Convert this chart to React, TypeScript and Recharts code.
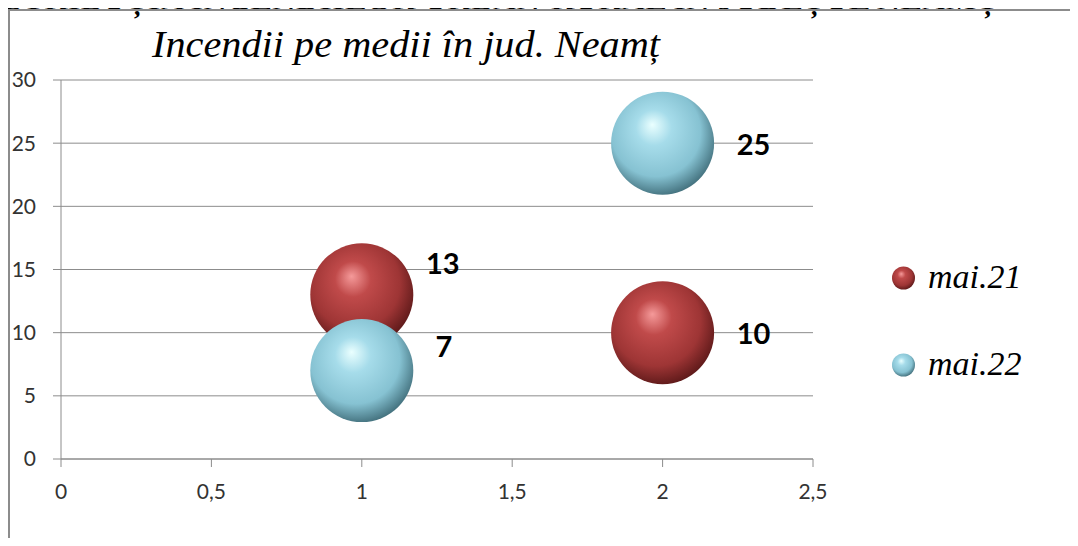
import React from "react";
import {
  ScatterChart,
  Scatter,
  XAxis,
  YAxis,
  ZAxis,
  CartesianGrid,
  Legend,
  LabelList,
} from "recharts";

// values
const seriesNames = ["mai.21", "mai.22"];
const xValues = [1, 2];
const mai21Values = [13, 10];
const mai22Values = [7, 25];
const bubbleSizes = [1, 1];
const xTicks = [0, 0.5, 1, 1.5, 2, 2.5];
const yTicks = [0, 5, 10, 15, 20, 25, 30];

const mai21 = xValues.map((x, i) => ({ x, y: mai21Values[i], z: bubbleSizes[i] }));
const mai22 = xValues.map((x, i) => ({ x, y: mai22Values[i], z: bubbleSizes[i] }));

const GRID = "#8c8c8c";
const R = 51.5;

// label nudges, like the hand-moved labels in the original
const labelShift: Record<string, number[][]> = {
  "mai.21": [[81, -32], [91, 0]],
  "mai.22": [[82, -25], [91, 0]],
};

const sphere = (gradId: string) => (props: any) => {
  const { cx, cy, width } = props;
  const r = width ? width / 2 : R;
  return <circle cx={cx} cy={cy} r={r} fill={`url(#${gradId})`} />;
};

const makeLabel = (name: string) => (props: any) => {
  const vb = props.viewBox || props;
  const cx = vb.x + (vb.width || 0) / 2;
  const cy = vb.y + (vb.height || 0) / 2;
  const [dx, dy] = labelShift[name][props.index] || [91, 0];
  return (
    <text
      x={cx + dx}
      y={cy + dy}
      textAnchor="middle"
      dominantBaseline="central"
      fontFamily="Lato, sans-serif"
      fontWeight="bold"
      fontSize={29}
      fill="#000"
    >
      {props.value}
    </text>
  );
};

const renderLegend = () => (
  <svg width={190} height={140} style={{ display: "block" }}>
    {seriesNames.map((n, i) => (
      <g key={n}>
        <circle cx={23.5} cy={28 + i * 87} r={11.5} fill={i === 0 ? "url(#gradRed)" : "url(#gradBlue)"} />
        <text
          x={48}
          y={38 + i * 87}
          fontFamily="'Liberation Serif', serif"
          fontStyle="italic"
          fontSize={34}
          fill="#000"
        >
          {n}
        </text>
      </g>
    ))}
  </svg>
);

const tickStyle = { fill: "#333", fontSize: 21, fontFamily: "Lato, sans-serif" };

export default function App() {
  return (
    <div style={{ position: "relative", width: 1078, height: 546, margin: -8, overflow: "hidden", background: "#fff" }}>
      {/* page heading above the chart, cut off by the top edge */}
      <div
        style={{
          position: "absolute",
          left: -32,
          top: -17,
          whiteSpace: "nowrap",
          fontFamily: "'Liberation Serif', serif",
          fontWeight: "bold",
          fontSize: 33,
          lineHeight: "33px",
          color: "#000",
          transformOrigin: "0 0",
          transform: "scaleX(0.99)",
        }}
      >
        DISTRIBUȚIA INCENDIILOR URBAN-RURAL ÎN JUDEȚUL NEAMȚ
      </div>
      <div style={{ position: "absolute", left: 0, top: 0 }}>
        <ScatterChart width={1078} height={546} margin={{ top: 80, right: 75, bottom: 47, left: 0 }}>
          <defs>
            <radialGradient id="gradRed" cx="45%" cy="42%" r="62%" fx="40%" fy="32%">
              <stop offset="0%" stopColor="#f59a9a" />
              <stop offset="28%" stopColor="#c04a4a" />
              <stop offset="70%" stopColor="#9e3535" />
              <stop offset="100%" stopColor="#561616" />
            </radialGradient>
            <radialGradient id="gradBlue" cx="45%" cy="42%" r="62%" fx="40%" fy="32%">
              <stop offset="0%" stopColor="#eaffff" />
              <stop offset="28%" stopColor="#a6dcea" />
              <stop offset="70%" stopColor="#86c2d2" />
              <stop offset="100%" stopColor="#3b6773" />
            </radialGradient>
          </defs>
          <CartesianGrid vertical={false} stroke={GRID} />
          <XAxis
            type="number"
            dataKey="x"
            domain={[0, 2.5]}
            ticks={xTicks}
            height={40}
            tickSize={8}
            tickMargin={17}
            stroke={GRID}
            fontSize={21}
            tickFormatter={(v: number) => String(v).replace(".", ",")}
            tick={tickStyle}
          />
          <YAxis
            type="number"
            dataKey="y"
            domain={[0, 30]}
            ticks={yTicks}
            width={61}
            tickSize={8}
            tickMargin={17}
            stroke={GRID}
            fontSize={21}
            tick={tickStyle}
          />
          <ZAxis type="number" dataKey="z" range={[Math.PI * R * R, Math.PI * R * R]} />
          <Legend
            layout="vertical"
            align="right"
            verticalAlign="middle"
            content={renderLegend}
            wrapperStyle={{ position: "absolute", left: 880, top: 250, width: 190, height: 140 }}
          />
          <Scatter name="mai.21" data={mai21} shape={sphere("gradRed")} isAnimationActive={false}>
            <LabelList dataKey="y" content={makeLabel("mai.21")} />
          </Scatter>
          <Scatter name="mai.22" data={mai22} shape={sphere("gradBlue")} isAnimationActive={false}>
            <LabelList dataKey="y" content={makeLabel("mai.22")} />
          </Scatter>
        </ScatterChart>
      </div>
      <svg width={1078} height={546} style={{ position: "absolute", left: 0, top: 0, pointerEvents: "none" }}>
        <rect x={9} y={10} width={1100} height={600} fill="none" stroke={GRID} strokeWidth={2} />
        <text
          x={152}
          y={57}
          textLength={508}
          lengthAdjust="spacingAndGlyphs"
          fontFamily="'Liberation Serif', serif"
          fontStyle="italic"
          fontSize={37}
          fill="#000"
        >
          Incendii pe medii în jud. Neamț
        </text>
      </svg>
    </div>
  );
}
